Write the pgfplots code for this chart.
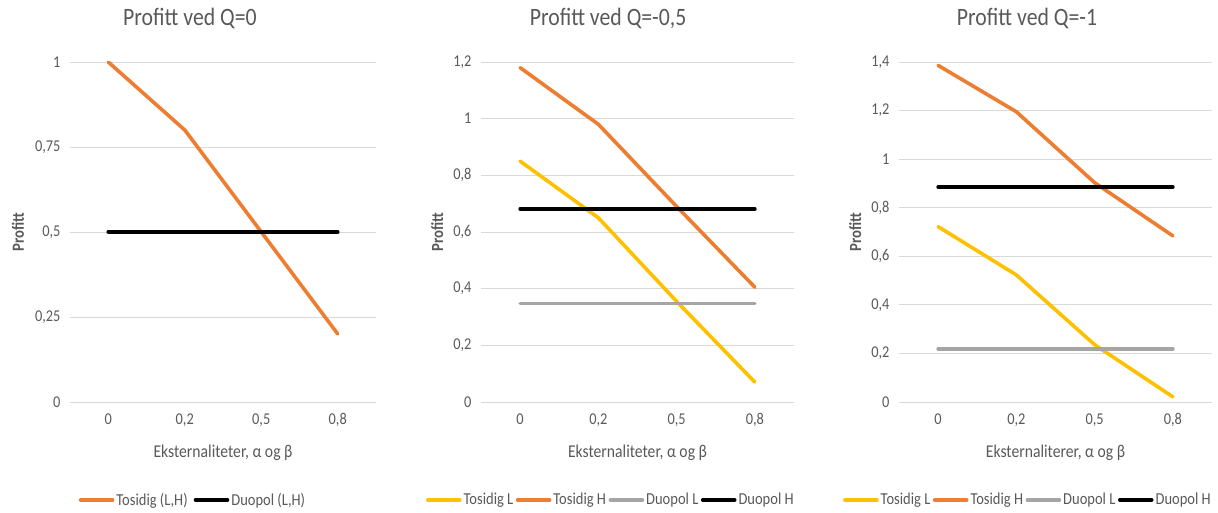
\documentclass[border=0pt]{standalone}
\usepackage{fontspec}
\setmainfont{Carlito}[FakeStretch=0.87]
\usepackage{pgfplots}
\pgfplotsset{compat=1.18}
\definecolor{txt}{RGB}{89,89,89}
\definecolor{grd}{RGB}{217,217,217}
\definecolor{cor}{RGB}{237,125,49}
\definecolor{cye}{RGB}{255,192,0}
\definecolor{cgr}{RGB}{165,165,165}
\pgfplotsset{
  excel/.style={
    scale only axis,
    width=313pt, height=340pt,
    xmin=-0.5, xmax=3.5, ymin=0,
    xtick={0,1,2,3},
    xticklabels={0,{0,2},{0,5},{0,8}},
    axis line style={draw=none},
    tick style={draw=none},
    ymajorgrids,
    grid style={grd, line width=0.8pt},
    ticklabel style={font=\fontsize{16.5}{18}\selectfont, text=txt},
    /pgf/number format/assume math mode=true,
    /pgf/number format/use comma,
    yticklabel style={xshift=-6pt},
    xticklabel style={yshift=-8pt},
    xlabel style={font=\fontsize{18}{20}\selectfont, text=txt, at={(axis description cs:0.5,0)}, yshift=-51pt, anchor=center},
    ylabel style={font=\bfseries\fontsize{17}{19}\selectfont, text=txt, anchor=center},
    title style={font=\fontsize{25}{27}\selectfont, text=txt, anchor=center},
    legend style={draw=none, fill=none, font=\fontsize{16.7}{18}\selectfont, text=txt,
      legend columns=-1, anchor=center,
      /tikz/every even column/.append style={column sep=0.5pt}},
    legend image code/.code={\draw[#1] (0pt,0pt) -- (32pt,0pt);},
    every axis plot/.append style={line width=3.6pt, line cap=round, line join=round},
  }
}
\begin{document}
\begin{tikzpicture}
\useasboundingbox (0,0) rectangle (1218pt,513pt);
% Panel 1
\begin{axis}[excel, at={(70pt,111pt)}, anchor=south west, width=306pt,
  ymax=1, ytick={0,0.25,0.5,0.75,1},
  yticklabels={0,{0,25},{0,5},{0,75},1},
  title={Profitt ved Q=0},
  title style={at={(axis description cs:0.392,1.109)}},
  xlabel={Eksternaliteter, α og β},
  ylabel={Profitt},
  ylabel style={at={(axis description cs:-0.17,0.5)}},
  legend style={at={(axis description cs:0.402,-0.288)}, /tikz/every even column/.append style={column sep=4pt}},
]
\addplot[cor] coordinates {(0,1) (1,0.8) (2,0.5) (3,0.2)};
\addlegendentry{Tosidig (L,H)}
\addplot[black] coordinates {(0,0.5) (1,0.5) (2,0.5) (3,0.5)};
\addlegendentry{Duopol (L,H)}
\end{axis}
% Panel 2
\begin{axis}[excel, at={(481pt,111pt)}, anchor=south west,
  ymax=1.2, ytick={0,0.2,0.4,0.6,0.8,1,1.2},
  yticklabels={0,{0,2},{0,4},{0,6},{0,8},1,{1,2}},
  title={Profitt ved Q=-0,5},
  title style={at={(axis description cs:0.406,1.109)}},
  xlabel={Eksternaliteter, α og β},
  ylabel={Profitt},
  ylabel style={at={(axis description cs:-0.14,0.5)}},
  legend style={at={(axis description cs:0.415,-0.288)}},
]
\addplot[cye] coordinates {(0,0.85) (1,0.65) (2,0.355) (3,0.07)};
\addlegendentry{Tosidig L}
\addplot[cor] coordinates {(0,1.18) (1,0.98) (2,0.69) (3,0.405)};
\addlegendentry{Tosidig H}
\addplot[cgr] coordinates {(0,0.347) (1,0.347) (2,0.347) (3,0.347)};
\addlegendentry{Duopol L}
\addplot[black] coordinates {(0,0.681) (1,0.681) (2,0.681) (3,0.681)};
\addlegendentry{Duopol H}
\end{axis}
% Panel 3
\begin{axis}[excel, at={(899pt,111pt)}, anchor=south west,
  ymax=1.4, ytick={0,0.2,0.4,0.6,0.8,1,1.2,1.4},
  yticklabels={0,{0,2},{0,4},{0,6},{0,8},1,{1,2},{1,4}},
  title={Profitt ved Q=-1},
  title style={at={(axis description cs:0.409,1.109)}},
  xlabel={Eksternaliterer, α og β},
  ylabel={Profitt},
  ylabel style={at={(axis description cs:-0.14,0.5)}},
  legend style={at={(axis description cs:0.412,-0.288)}},
]
\addplot[cye] coordinates {(0,0.722) (1,0.523) (2,0.236) (3,0.021)};
\addlegendentry{Tosidig L}
\addplot[cor] coordinates {(0,1.386) (1,1.195) (2,0.903) (3,0.684)};
\addlegendentry{Tosidig H}
\addplot[cgr] coordinates {(0,0.219) (1,0.219) (2,0.219) (3,0.219)};
\addlegendentry{Duopol L}
\addplot[black] coordinates {(0,0.886) (1,0.886) (2,0.886) (3,0.886)};
\addlegendentry{Duopol H}
\end{axis}
\end{tikzpicture}
\end{document}
